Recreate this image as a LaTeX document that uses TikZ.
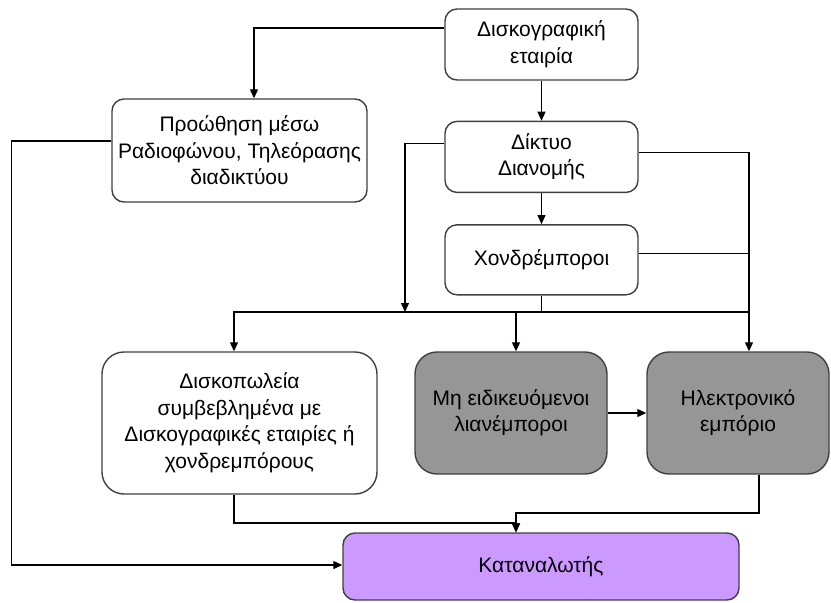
\documentclass[tikz,border=0pt]{standalone}
\usepackage{fontspec}
\setmainfont{Liberation Sans}
\usepackage{xcolor}
\usetikzlibrary{arrows.meta, positioning, calc}
\definecolor{boxedge}{RGB}{64, 64, 64}
\definecolor{retailgrey}{RGB}{150, 150, 150}
\definecolor{buyerpurple}{RGB}{204, 153, 255}

\begin{document}
\begin{tikzpicture}[
    x=1pt, y=-1pt,
    box/.style={rectangle, draw=boxedge, line width=1.4pt, fill=white, rounded corners=12pt, inner sep=0pt, align=center, font=\fontsize{21}{26.5}\selectfont},
    shop/.style={box, fill=retailgrey, rounded corners=22pt},
    arrow/.style={-{Triangle[length=9pt, width=8pt]}, line width=1.2pt},
    link/.style={line width=1.2pt}
]
    \useasboundingbox (0,0) rectangle (831,603);

    \node[box, minimum width=193pt, minimum height=71pt] (label) at (541.5,44.5) {Δισκογραφική\\εταιρία};
    \node[box, minimum width=193pt, minimum height=71pt, below=40pt of label] (dist) {Δίκτυο\\Διανομής};
    \node[box, minimum width=193pt, minimum height=70pt, below=31pt of dist] (chond) {Χονδρέμποροι};
    \node[box, minimum width=255pt, minimum height=103pt] (promo) at (239.5,150.5) {Προώθηση μέσω\\Ραδιοφώνου, Τηλεόρασης\\διαδικτύου};
    \node[box, rounded corners=22pt, minimum width=275pt, minimum height=142pt] (disko) at (239.5,423) {Δισκοπωλεία\\συμβεβλημένα με\\Δισκογραφικές εταιρίες ή\\χονδρεμπόρους};
    \node[shop, minimum width=192pt, minimum height=122pt] (mi) at (511,413) {Μη ειδικευόμενοι\\λιανέμποροι};
    \node[shop, minimum width=182pt, minimum height=122pt] (ilek) at (738,413) {Ηλεκτρονικό\\εμπόριο};
    \node[box, fill=buyerpurple, minimum width=396pt, minimum height=67pt] (katan) at (541,566.5) {Καταναλωτής};

    % junctions
    \coordinate (bus) at (541.5,312);
    \coordinate (distin) at (405,312);
    \coordinate (ilekin) at ([xshift=11pt]ilek.north);
    \coordinate (chondout) at ([yshift=6pt]chond.east);
    \coordinate (katin) at ([xshift=-25pt]katan.north);
    \coordinate (m1) at (516,523);
    \coordinate (m2) at (516,513);

    \draw[arrow] ([yshift=16.5pt]label.west) -| ([xshift=14.5pt]promo.north);
    \draw[arrow] (label) -- (dist);
    \draw[arrow] (dist) -- (chond);
    \draw[link] (chond.south) -- (bus);
    \draw[arrow] ([yshift=13.5pt]dist.west) -| (distin);
    \draw[arrow] ([yshift=4.5pt]dist.east) -| (ilekin);
    \draw[link] (chondout) -- (chondout -| ilekin);
    \draw[link] (bus) -- (bus -| ilekin);
    \draw[arrow] (bus) -| ([xshift=-5.5pt]disko.north);
    \draw[arrow] (bus) -| ([xshift=5pt]mi.north);
    \draw[arrow] (mi) -- (ilek);
    \draw[arrow] ([xshift=-5.5pt]disko.south) |- (m1) -- (katin);
    \draw[arrow] ([xshift=21pt]ilek.south) |- (m2) -- (katin);
    \draw[arrow] ([yshift=9.5pt]promo.west) -- ++(-100,0) |- ([yshift=1.5pt]katan.west);
\end{tikzpicture}
\end{document}
